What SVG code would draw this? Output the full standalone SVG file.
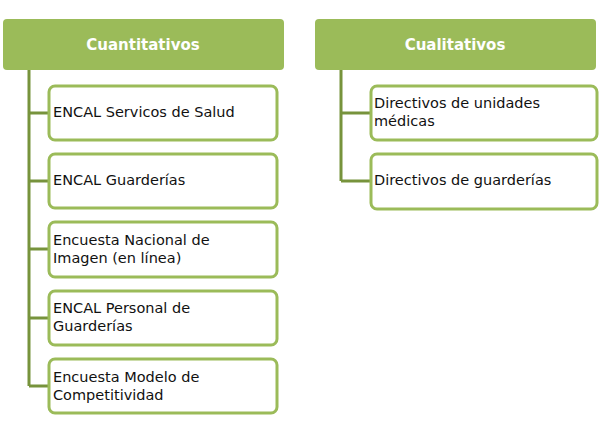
<svg xmlns="http://www.w3.org/2000/svg" width="599" height="431" viewBox="0 0 599 431">
<style>
.hdr{fill:#9BBB59;}
.hdrt{font-family:"DejaVu Sans","Open Sans",sans-serif;font-weight:bold;font-size:15px;fill:#fff;text-anchor:middle;}
.box{fill:#fff;stroke:#9BBB59;stroke-width:3;}
.t{font-family:"DejaVu Sans","Open Sans",sans-serif;font-size:14.5px;fill:#111;}
.c{fill:none;stroke:#77933C;stroke-width:3;}
</style>
<rect width="599" height="431" fill="#fff"/>
<g id="connectors">
<path class="c" d="M29,70 V386 M29,113 H49 M29,181 H49 M29,249 H49 M29,318 H49 M29,386 H49"/>
<path class="c" d="M341,70 V181 M341,113 H371 M341,181 H371"/>
</g>
<g id="cuantitativos"><rect class="hdr" x="3" y="19" width="281" height="51" rx="4"/><text class="hdrt" x="143" y="50">Cuantitativos</text></g>
<g id="cualitativos"><rect class="hdr" x="315" y="19" width="281" height="51" rx="4"/><text class="hdrt" x="455" y="50">Cualitativos</text></g>
<g id="n1"><rect class="box" x="49" y="86" width="228" height="54" rx="6"/><text class="t" x="53" y="117">ENCAL Servicos de Salud</text></g>
<g id="n2"><rect class="box" x="49" y="154" width="228" height="54" rx="6"/><text class="t" x="53" y="185">ENCAL Guarderías</text></g>
<g id="n3"><rect class="box" x="49" y="222" width="228" height="55" rx="6"/><text class="t" x="53" y="245">Encuesta Nacional de</text><text class="t" x="53" y="263">Imagen (en línea)</text></g>
<g id="n4"><rect class="box" x="49" y="291" width="228" height="54" rx="6"/><text class="t" x="53" y="313">ENCAL Personal de</text><text class="t" x="53" y="331">Guarderías</text></g>
<g id="n5"><rect class="box" x="49" y="359" width="228" height="54" rx="6"/><text class="t" x="53" y="382">Encuesta Modelo de</text><text class="t" x="53" y="400">Competitividad</text></g>
<g id="r1"><rect class="box" x="371" y="86" width="226" height="54" rx="6"/><text class="t" x="374" y="108">Directivos de unidades</text><text class="t" x="374" y="126">médicas</text></g>
<g id="r2"><rect class="box" x="371" y="154" width="226" height="55" rx="6"/><text class="t" x="374" y="185">Directivos de guarderías</text></g>
</svg>
